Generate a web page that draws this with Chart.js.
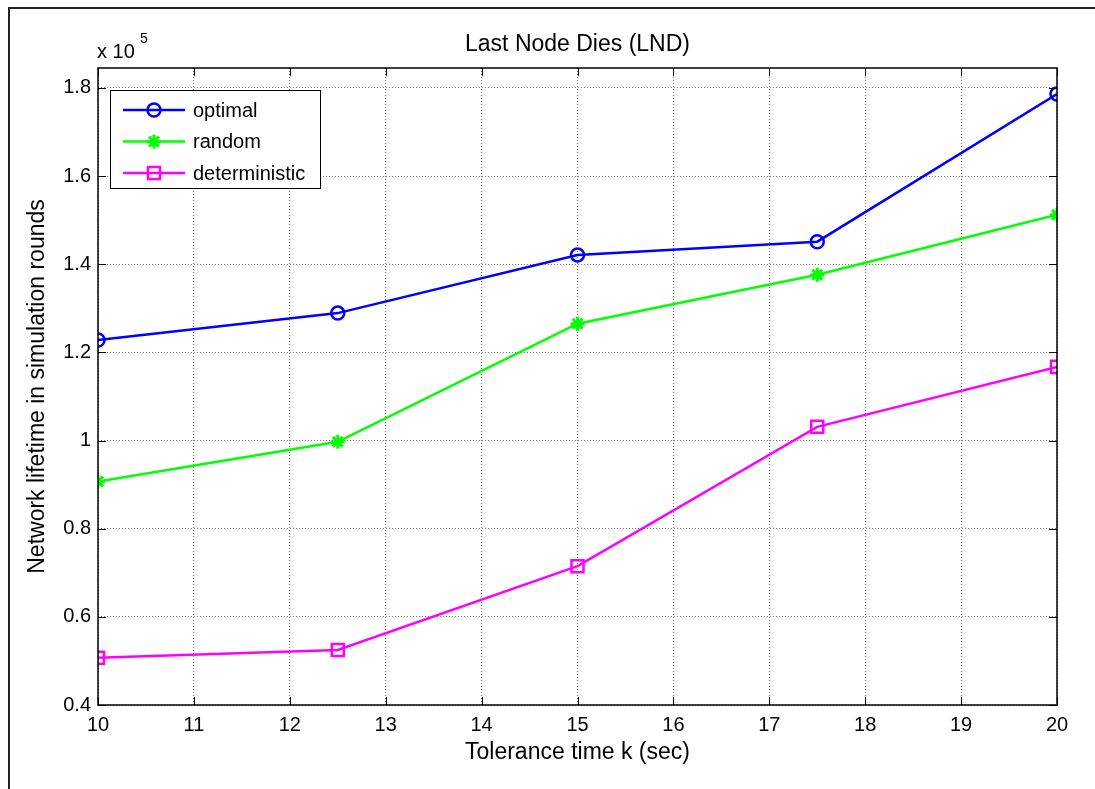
<!DOCTYPE html>
<html>
<head>
<meta charset="utf-8">
<script src="https://cdn.jsdelivr.net/npm/chart.js@4/dist/chart.umd.min.js"></script>
<style>
  html, body { margin: 0; padding: 0; background: #fff; }
  #wrap { position: relative; width: 1095px; height: 789px; }
  #frame { position: absolute; left: 8px; top: 7px; width: 1100px; height: 800px;
           border-left: 2px solid #222; border-top: 2px solid #222; box-sizing: border-box; }
  canvas { position: absolute; left: 0; top: 0; }
</style>
</head>
<body>
<div id="wrap">
  <div id="frame"></div>
  <canvas id="chart" width="1095" height="789"></canvas>
</div>
<script>
// Data (values in units of 10^5 rounds)
const toleranceK = [10, 12.5, 15, 17.5, 20];
const optimal = [1.228, 1.289, 1.421, 1.451, 1.786];
const random = [0.907, 0.997, 1.265, 1.376, 1.512];
const deterministic = [0.507, 0.525, 0.715, 1.031, 1.167];
const seriesNames = ['optimal', 'random', 'deterministic'];
const xTicks = [10, 11, 12, 13, 14, 15, 16, 17, 18, 19, 20];
const yTicks = [0.4, 0.6, 0.8, 1.0, 1.2, 1.4, 1.6, 1.8];

const FONT = 'Arial, "Liberation Sans", Helvetica, sans-serif';
const pts = arr => arr.map((v, i) => ({ x: toleranceK[i], y: v }));

// box, inward ticks, title, exponent label and legend (MATLAB style)
const matlabDecor = {
    id: 'matlabDecor',
    afterDraw(chart) {
        const ctx = chart.ctx;
        const a = chart.chartArea;
        const xs = chart.scales.x, ys = chart.scales.y;
        ctx.save();
        ctx.strokeStyle = '#000';
        ctx.lineWidth = 1.5;
        ctx.strokeRect(a.left, a.top, a.right - a.left, a.bottom - a.top);
        ctx.lineWidth = 1;
        ctx.beginPath();
        xTicks.forEach(t => {
            const px = Math.round(xs.getPixelForValue(t)) + 0.5;
            ctx.moveTo(px, a.bottom); ctx.lineTo(px, a.bottom - 8);
            ctx.moveTo(px, a.top); ctx.lineTo(px, a.top + 8);
        });
        yTicks.forEach(t => {
            const py = Math.round(ys.getPixelForValue(t)) + 0.5;
            ctx.moveTo(a.left, py); ctx.lineTo(a.left + 8, py);
            ctx.moveTo(a.right, py); ctx.lineTo(a.right - 8, py);
        });
        ctx.stroke();

        ctx.fillStyle = '#000';
        ctx.font = '23px ' + FONT;
        ctx.textAlign = 'center';
        ctx.textBaseline = 'middle';
        ctx.fillText('Last Node Dies (LND)', (a.left + a.right) / 2, 45);

        ctx.textAlign = 'left';
        ctx.font = '20px ' + FONT;
        ctx.fillText('x 10', 97, 52);
        ctx.font = '14px ' + FONT;
        ctx.fillText('5', 140, 39);

        // legend
        const lx = 110, ly = 90, lw = 210, lh = 98;
        ctx.fillStyle = '#fff';
        ctx.fillRect(lx, ly, lw, lh);
        ctx.strokeStyle = '#000';
        ctx.lineWidth = 1;
        ctx.strokeRect(lx + 0.5, ly + 0.5, lw, lh);
        chart.data.datasets.forEach((ds, i) => {
            const y = 110 + i * 31.5;
            ctx.strokeStyle = ds.borderColor;
            ctx.lineWidth = 2.5;
            ctx.beginPath();
            ctx.moveTo(123, y); ctx.lineTo(185, y);
            ctx.stroke();
            ctx.lineWidth = ds.pointBorderWidth;
            ctx.strokeStyle = ds.pointBorderColor;
            ctx.fillStyle = ds.pointBackgroundColor;
            Chart.helpers.drawPoint(ctx, {
                pointStyle: ds.pointStyle, radius: ds.pointRadius,
                borderWidth: ds.pointBorderWidth, rotation: 0
            }, 154, y);
            ctx.fillStyle = '#000';
            ctx.font = '20px ' + FONT;
            ctx.textAlign = 'left';
            ctx.fillText(ds.label, 193, y + 1);
        });
        ctx.restore();
    }
};

new Chart(document.getElementById('chart').getContext('2d'), {
    type: 'line',
    data: {
        datasets: [{
            label: seriesNames[0],
            data: pts(optimal),
            borderColor: '#0000ff',
            borderWidth: 2.5,
            pointStyle: 'circle',
            pointRadius: 6.5,
            pointBorderWidth: 2.5,
            pointBackgroundColor: 'rgba(0,0,0,0)',
            pointBorderColor: '#0000ff'
        }, {
            label: seriesNames[1],
            data: pts(random),
            borderColor: '#00ff00',
            borderWidth: 2.5,
            pointStyle: 'star',
            pointRadius: 7,
            pointBorderWidth: 3,
            pointBackgroundColor: '#00ff00',
            pointBorderColor: '#00ff00'
        }, {
            label: seriesNames[2],
            data: pts(deterministic),
            borderColor: '#ff00ff',
            borderWidth: 2.5,
            pointStyle: 'rect',
            pointRadius: 8.5,
            pointBorderWidth: 2.5,
            pointBackgroundColor: 'rgba(0,0,0,0)',
            pointBorderColor: '#ff00ff'
        }]
    },
    options: {
        responsive: false,
        animation: false,
        layout: { padding: { top: 68, right: 38, left: 0, bottom: 23 } },
        plugins: { legend: { display: false }, title: { display: false }, tooltip: { enabled: false } },
        scales: {
            x: {
                type: 'linear', min: 10, max: 20,
                afterBuildTicks: s => { s.ticks = xTicks.map(v => ({ value: v })); },
                afterFit: s => { s.height = 789 - 23 - 705; },
                grid: { color: '#555', lineWidth: 0.8, drawTicks: false },
                border: { display: false, dash: [1, 2] },
                ticks: { color: '#000', padding: 8, font: { family: FONT, size: 20 } },
                title: { display: true, text: 'Tolerance time k (sec)', color: '#000',
                         padding: { top: 0, bottom: 0 }, font: { family: FONT, size: 23 } }
            },
            y: {
                type: 'linear', min: 0.4, max: 1.845,
                afterBuildTicks: s => { s.ticks = yTicks.map(v => ({ value: v })); },
                afterFit: s => { s.width = 98; },
                grid: { color: '#555', lineWidth: 0.8, drawTicks: false },
                border: { display: false, dash: [1, 2] },
                ticks: { color: '#000', padding: 7, font: { family: FONT, size: 20 },
                         callback: v => String(Number(v.toFixed(1))) },
                title: { display: true, text: 'Network lifetime in simulation rounds', color: '#000',
                         padding: { top: 24, bottom: 0 }, font: { family: FONT, size: 23 } }
            }
        }
    },
    plugins: [matlabDecor]
});
</script>
</body>
</html>
